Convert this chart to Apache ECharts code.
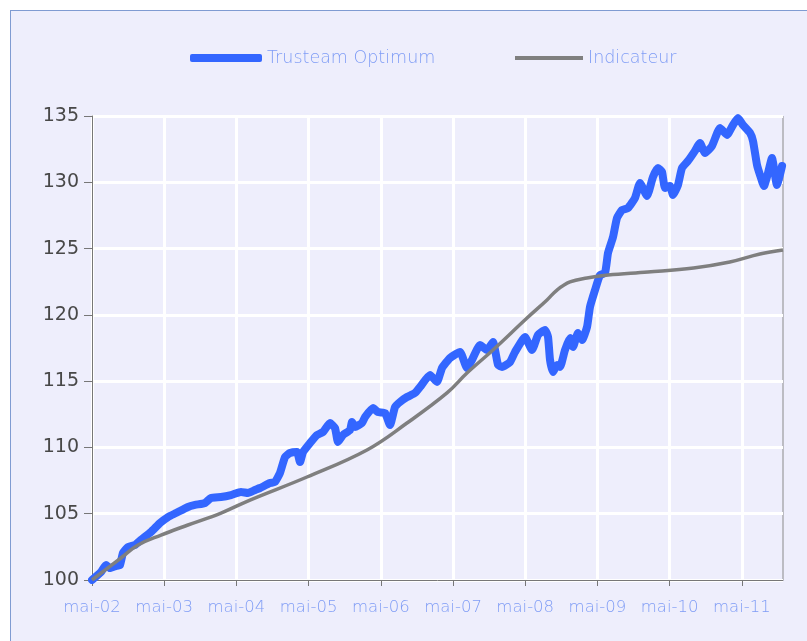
<!DOCTYPE html>
<html>
<head>
<meta charset="utf-8">
<script src="https://cdn.jsdelivr.net/npm/echarts@6/dist/echarts.min.js"></script>
<style>
  html, body { margin: 0; padding: 0; background: #ffffff; overflow: hidden; }
  #frame { position: absolute; left: 10px; top: 10px; width: 830px; height: 660px;
           background: #eeeefc; border-left: 1px solid #7f9bd2; border-top: 1px solid #7f9bd2; }
  #chart { position: absolute; left: 0; top: 0; width: 807px; height: 641px; }
</style>
</head>
<body>
<div id="frame"></div>
<div id="chart"></div>
<script>
// x = months since May 2002
var xTickLabels = ['mai-02', 'mai-03', 'mai-04', 'mai-05', 'mai-06', 'mai-07', 'mai-08', 'mai-09', 'mai-10', 'mai-11'];
var xTickValues = [0, 12, 24, 36, 48, 60, 72, 84, 96, 108];

var optMonths = [0, 1.5, 2.33, 3.0, 4.0, 4.65, 5.15, 5.98, 7.15, 8.14, 9.8, 11.3, 12.63, 13.96, 15.95, 17.12,
  18.78, 19.78, 21.44, 23.1, 24.76, 25.93, 27.09, 27.92, 29.58, 30.41, 31.24, 32.08, 32.9, 34.07, 34.57,
  35.07, 36.23, 37.39, 38.39, 39.55, 40.39, 40.88, 41.72, 42.88, 43.21, 43.71, 44.87, 45.37, 46.7, 47.53,
  48.7, 49.53, 50.36, 51.19, 52.35, 53.68, 54.51, 56.17, 57.34, 58.17, 59.5, 61.16, 62.32, 63.15, 64.48,
  65.65, 66.64, 67.48, 68.14, 69.47, 70.3, 71.96, 73.13, 74.12, 75.29, 75.79, 76.12, 76.62, 77.28, 77.78,
  78.61, 79.44, 79.94, 80.77, 81.44, 82.27, 82.76, 83.6, 84.43, 85.26, 85.76, 86.59, 87.25, 88.08, 89.08,
  90.24, 91.07, 92.24, 93.23, 94.06, 94.73, 95.23, 96.06, 96.56, 97.39, 98.05, 99.05, 100.21, 101.04,
  101.88, 103.04, 104.37, 105.53, 106.53, 107.36, 108.19, 109.36, 109.86, 110.52, 111.02, 111.68, 112.35,
  113.01, 113.84, 114.68];
var optValues = [100.0, 100.6, 101.13, 100.9, 101.06, 101.13, 102.04, 102.49, 102.64, 103.02, 103.62, 104.3,
  104.75, 105.05, 105.51, 105.66, 105.81, 106.19, 106.26, 106.41, 106.64, 106.56, 106.79, 106.94, 107.31,
  107.39, 108.07, 109.28, 109.58, 109.65, 108.9, 109.65, 110.33, 110.94, 111.16, 111.84, 111.46, 110.41,
  110.94, 111.31, 111.92, 111.54, 111.84, 112.29, 112.97, 112.67, 112.59, 111.69, 113.05, 113.43, 113.8,
  114.11, 114.56, 115.46, 114.94, 115.99, 116.75, 117.2, 115.99, 116.6, 117.73, 117.35, 117.95, 116.22,
  116.07, 116.44, 117.2, 118.33, 117.35, 118.48, 118.86, 118.33, 116.6, 115.69, 116.22, 116.07, 117.35,
  118.25, 117.58, 118.63, 118.1, 119.08, 120.59, 121.87, 123.0, 123.16, 124.67, 125.87, 127.31, 127.91,
  128.06, 128.82, 129.95, 128.97, 130.4, 131.08, 130.78, 129.57, 129.72, 129.04, 129.8, 131.08, 131.61,
  132.37, 132.97, 132.21, 132.74, 134.1, 133.57, 134.32, 134.85, 134.32, 133.72, 133.11, 131.31, 130.55,
  129.72, 130.7, 131.83, 129.8, 131.23];

var indMonths = [0, 4.82, 7.65, 11.47, 15.95, 21.44, 26.26, 35.73, 45.7, 52.35, 59.0, 62.32, 66.64, 72.3,
  75.62, 77.28, 79.44, 82.27, 85.76, 92.4, 99.97, 106.0, 111.0, 114.84];
var indValues = [100, 101.66, 102.64, 103.39, 104.15, 105.05, 106.03, 107.77, 109.81, 111.84, 114.11, 115.61,
  117.35, 119.76, 121.12, 121.87, 122.48, 122.78, 123.0, 123.23, 123.54, 123.99, 124.59, 124.89];

function pairs(xs, ys) {
  var out = [];
  for (var i = 0; i < xs.length; i++) out.push([xs[i], ys[i]]);
  return out;
}

var chart = echarts.init(document.getElementById('chart'), null, { renderer: 'canvas' });

var legendText = { color: '#7f9cf5', fontSize: 17.5, fontFamily: 'DejaVu Sans', fontWeight: 200 };

var option = {
  backgroundColor: 'transparent',
  animation: false,
  legend: [
    {
      data: [{ name: 'Trusteam Optimum', icon: 'roundRect', itemStyle: { color: '#3366ff' } }],
      left: 190, top: 49, padding: 0, itemWidth: 72, itemHeight: 8,
      textStyle: legendText
    },
    {
      data: [{ name: 'Indicateur', icon: 'rect', itemStyle: { color: '#7f7f7f' } }],
      left: 515, top: 49, padding: 0, itemWidth: 68, itemHeight: 4,
      textStyle: legendText
    }
  ],
  grid: {
    left: 92, top: 116, right: 24, bottom: 61,
    show: true, borderColor: '#8a8a8a', borderWidth: 1, backgroundColor: 'transparent'
  },
  xAxis: {
    type: 'value',
    min: 0,
    max: 114.84,
    interval: 12,
    axisLine: { lineStyle: { color: '#777777', width: 1 } },
    axisTick: { show: true, length: 6, lineStyle: { color: '#777777' }, customValues: xTickValues },
    axisLabel: {
      customValues: xTickValues,
      margin: 19,
      color: '#7f9cf5', fontSize: 16.5, fontFamily: 'DejaVu Sans', fontWeight: 200,
      formatter: function (v) {
        var i = xTickValues.indexOf(v);
        return i >= 0 ? xTickLabels[i] : '';
      }
    },
    splitLine: { show: true, lineStyle: { color: '#ffffff', width: 3 } }
  },
  yAxis: {
    type: 'value',
    min: 100,
    max: 135,
    interval: 5,
    axisLine: { show: true, lineStyle: { color: '#777777', width: 1 } },
    axisTick: { show: true, length: 8, lineStyle: { color: '#777777' } },
    axisLabel: { margin: 13, color: '#484848', fontSize: 19, fontFamily: 'DejaVu Sans' },
    splitLine: { show: true, lineStyle: { color: '#ffffff', width: 3 } }
  },
  series: [
    {
      name: 'Trusteam Optimum',
      type: 'line',
      data: pairs(optMonths, optValues),
      showSymbol: false,
      symbol: 'none',
      smooth: 0.15,
      lineStyle: { color: '#3366ff', width: 8, cap: 'round', join: 'round' },
      itemStyle: { color: '#3366ff' },
      z: 2
    },
    {
      name: 'Indicateur',
      type: 'line',
      data: pairs(indMonths, indValues),
      showSymbol: false,
      symbol: 'none',
      smooth: 0.4,
      lineStyle: { color: '#7f7f7f', width: 3.5 },
      itemStyle: { color: '#7f7f7f' },
      z: 3
    }
  ]
};

chart.setOption(option);
</script>
</body>
</html>
